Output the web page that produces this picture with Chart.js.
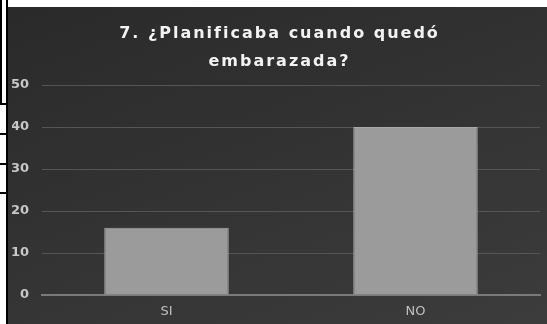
<!DOCTYPE html>
<html>
<head>
<meta charset="utf-8">
<script src="https://cdn.jsdelivr.net/npm/chart.js@4"></script>
<style>
  html, body { margin: 0; padding: 0; background: #fff; }
  body { width: 547px; height: 324px; position: relative; overflow: hidden; }
  .edge { position: absolute; background: #000; }
  .panel {
    position: absolute; left: 8px; top: 7px; width: 539px; height: 317px;
    background: linear-gradient(160deg, #2a2a2a 0%, #323232 45%, #3c3c3c 100%);
  }
</style>
</head>
<body>
<!-- table border remnants on the left -->
<div class="edge" style="left:0;top:0;width:2px;height:104px"></div>
<div class="edge" style="left:6px;top:0;width:2px;height:324px"></div>
<div class="edge" style="left:0;top:103px;width:7px;height:2px"></div>
<div class="edge" style="left:0;top:133px;width:7px;height:2px"></div>
<div class="edge" style="left:0;top:163px;width:7px;height:2px"></div>
<div class="edge" style="left:0;top:192px;width:7px;height:2px"></div>

<div class="panel"><canvas id="chart" width="539" height="317"></canvas></div>

<script>
const titleLines = ['7. ¿Planificaba cuando quedó', 'embarazada?'];
const categories = ['SI', 'NO'];
const values     = [16, 40];
const yTicks     = [0, 10, 20, 30, 40, 50];

// spaced-out title like the Office chart style
const spacedTitle = {
  id: 'spacedTitle',
  afterDraw(chart) {
    const c = chart.ctx;
    c.save();
    c.font = 'bold 16px "DejaVu Sans"';
    c.fillStyle = '#f2f2f2';
    c.textAlign = 'center';
    c.textBaseline = 'middle';
    c.letterSpacing = '2px';
    titleLines.forEach((line, i) => c.fillText(line, chart.width / 2 + 2, 27 + i * 28));
    c.restore();
  }
};

const ctx = document.getElementById('chart').getContext('2d');

new Chart(ctx, {
  type: 'bar',
  data: {
    labels: categories,
    datasets: [{
      data:            values,
      backgroundColor: '#9b9b9b',
      borderColor:     '#a8a8a8',
      borderWidth:     1,
      barPercentage:      0.5,
      categoryPercentage: 1,
    }],
  },
  options: {
    responsive: false,
    animation:  false,
    layout: { padding: { left: 4, right: 7, top: 78, bottom: 4 } },
    plugins: {
      legend:  { display: false },
      tooltip: { enabled: false },
      title:   { display: false },
    },
    scales: {
      x: {
        grid:   { display: false, drawTicks: false },
        border: { color: '#7a7a7a', width: 2 },
        ticks:  { color: '#c0c0c0', padding: 9, font: { family: 'DejaVu Sans', size: 13 } },
        afterFit: axis => { axis.height = 25; },
      },
      y: {
        min: 0,
        max: 50,
        afterBuildTicks: axis => { axis.ticks = yTicks.map(v => ({ value: v })); },
        grid:   { color: '#555', lineWidth: 1, drawTicks: false },
        border: { display: false },
        ticks:  { color: '#c8c8c8', padding: 13, font: { family: 'DejaVu Sans', size: 13, weight: 'bold' } },
        afterFit: axis => { axis.width = 30; },
      },
    },
  },
  plugins: [spacedTitle],
});
</script>
</body>
</html>
